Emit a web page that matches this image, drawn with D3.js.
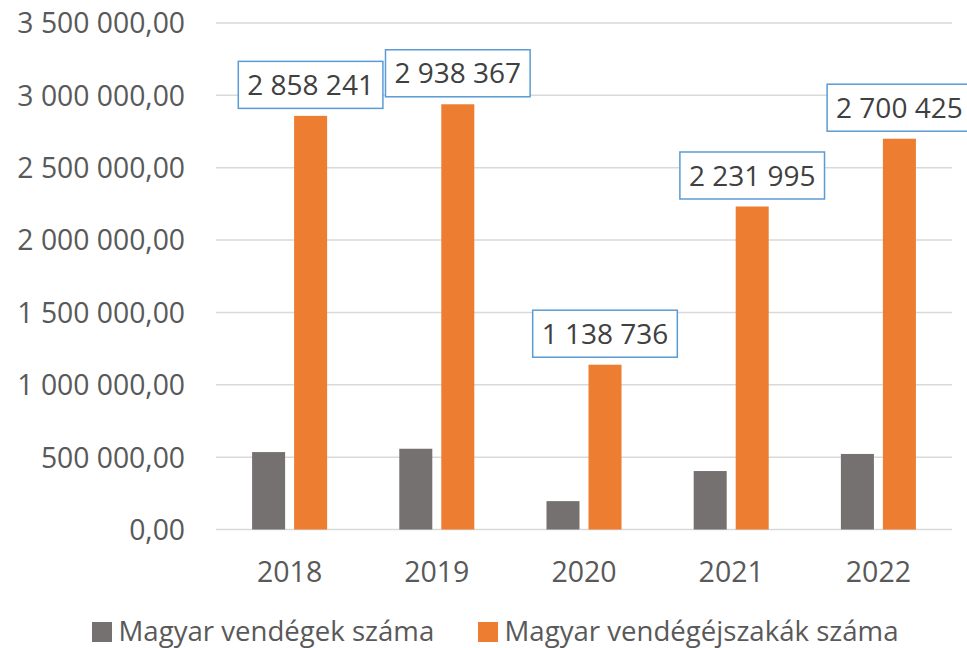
<!DOCTYPE html>
<html><head><meta charset="utf-8">
<script src="https://cdn.jsdelivr.net/npm/d3@7"></script>
<style>
html,body{margin:0;padding:0;background:#fff;}
svg{display:block;}
text{font-family:"Open Sans","Noto Sans",sans-serif;}
</style></head>
<body>
<svg id="chart" width="967" height="648"></svg>
<script>
const years = ["2018","2019","2020","2021","2022"];
const seriesNames = ["Magyar vendégek száma","Magyar vendégéjszakák száma"];
const guests = [535000, 558000, 196000, 404000, 522000];
const nights = [2858241, 2938367, 1138736, 2231995, 2700425];
const yTicks = [0, 500000, 1000000, 1500000, 2000000, 2500000, 3000000, 3500000];
const colors = ["#767171", "#ED7D31"];

const svg = d3.select("#chart");
const plot = {left:216, right:952, top:23, bottom:529.5};

const loc = d3.formatLocale({decimal:",", thousands:"\u00a0", grouping:[3], currency:["",""]});
const fmtAxis = loc.format(",.2f");
const fmtLabel = loc.format(",d");

const x = d3.scaleBand().domain(years).range([plot.left, plot.right]).paddingInner(0).paddingOuter(0);
const xs = d3.scaleBand().domain([0,1]).range([0, x.bandwidth()]).paddingInner(0.214).paddingOuter(0.859);
const y = d3.scaleLinear().domain([0, 3500000]).range([plot.bottom, plot.top]);

// gridlines
svg.append("g").selectAll("line").data(yTicks).join("line")
  .attr("x1", plot.left).attr("x2", plot.right)
  .attr("y1", d => y(d)).attr("y2", d => y(d))
  .attr("stroke", "#D9D9D9").attr("stroke-width", 1.5);

// y axis
const yAxis = d3.axisLeft(y).tickValues(yTicks).tickFormat(fmtAxis).tickSize(0).tickPadding(0);
const gy = svg.append("g").attr("transform", `translate(185,0)`).call(yAxis);
gy.select(".domain").remove();
gy.selectAll("text").attr("fill", "#595959").style("font-size", "28.3px").attr("dy", "0.35em");

// x axis
const xAxis = d3.axisBottom(x).tickSize(0).tickPadding(0);
const gx = svg.append("g").attr("transform", `translate(0,${plot.bottom})`).call(xAxis);
gx.select(".domain").remove();
gx.selectAll("text").attr("fill", "#595959").style("font-size", "28.5px").attr("dy", "0").attr("y", 52);

// bars
const series = [guests, nights];
series.forEach((vals, si) => {
  svg.append("g").selectAll("rect").data(vals).join("rect")
    .attr("x", (d,i) => x(years[i]) + xs(si))
    .attr("width", xs.bandwidth())
    .attr("y", d => y(d))
    .attr("height", d => y(0) - y(d))
    .attr("fill", colors[si]);
});

// data labels for nights
const lg = svg.append("g");
nights.forEach((v, i) => {
  const cx = x(years[i]) + xs(1) + xs.bandwidth()/2;
  const bottom = y(v) - 7.5;
  const g = lg.append("g");
  const rect = g.append("rect");
  const t = g.append("text").text(fmtLabel(v))
    .attr("x", cx).attr("y", bottom - 23.5).attr("dy", "0.36em")
    .attr("text-anchor", "middle").attr("fill", "#404040").style("font-size", "28px");
  const w = t.node().getComputedTextLength() + 18;
  rect.attr("x", cx - w/2).attr("y", bottom - 47).attr("width", w).attr("height", 47)
    .attr("fill", "#fff").attr("stroke", "#5B9BD5").attr("stroke-width", 1.5);
});

// legend
const legendX = [92, 478];
const leg = svg.append("g");
seriesNames.forEach((n, i) => {
  leg.append("rect").attr("x", legendX[i]).attr("y", 622).attr("width", 20).attr("height", 20).attr("fill", colors[i]);
  leg.append("text").attr("x", legendX[i] + 26.5).attr("y", 640.5)
    .attr("fill", "#595959").style("font-size", "27.6px").text(n);
});
</script>
</body></html>
